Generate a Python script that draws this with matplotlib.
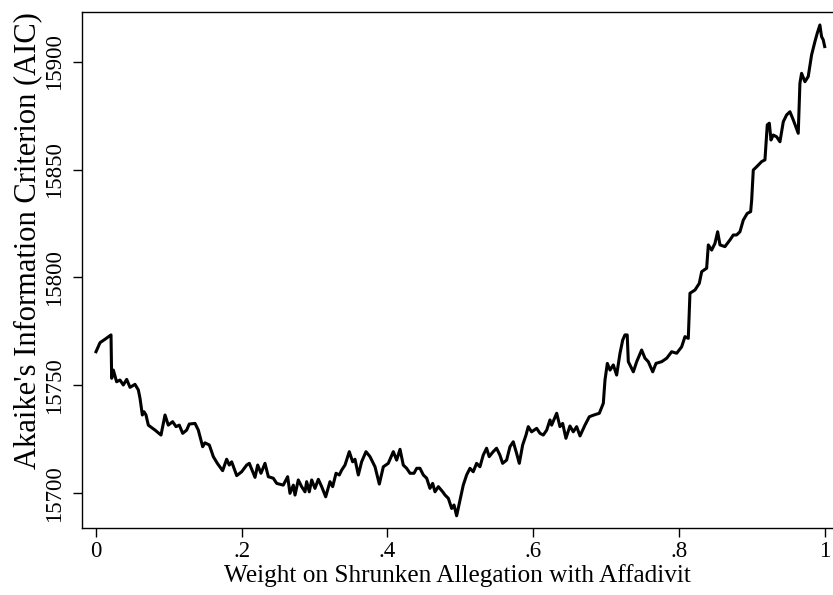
import matplotlib
matplotlib.use("Agg")
import matplotlib.pyplot as plt

plt.rcParams['font.family'] = ['Liberation Serif', 'DejaVu Serif']

# weight on shrunken allegation vs. AIC of the fitted model
weight = [
    0.0, 0.0055, 0.0124, 0.0206, 0.0215, 0.0238, 0.0283, 0.0329, 0.0375, 0.0421,
    0.0467, 0.0535, 0.0581, 0.0604, 0.0636, 0.0659, 0.0686, 0.0718, 0.0810, 0.0892,
    0.0947, 0.0992, 0.1052, 0.1098, 0.1143, 0.1190, 0.1244, 0.1280, 0.1359, 0.1404,
    0.1464, 0.1495, 0.1555, 0.1610, 0.1665, 0.1738, 0.1793, 0.1829, 0.1862, 0.1931,
    0.1999, 0.2068, 0.2104, 0.2182, 0.2219, 0.2264, 0.2319, 0.2365, 0.2433, 0.2480,
    0.2570, 0.2630, 0.2662, 0.2708, 0.2731, 0.2776, 0.2822, 0.2868, 0.2891, 0.2927,
    0.2960, 0.3005, 0.3051, 0.3097, 0.3152, 0.3211, 0.3248, 0.3294, 0.3339, 0.3372,
    0.3417, 0.3476, 0.3522, 0.3554, 0.3600, 0.3645, 0.3705, 0.3760, 0.3829, 0.3888,
    0.3943, 0.4011, 0.4080, 0.4126, 0.4172, 0.4217, 0.4263, 0.4309, 0.4364, 0.4401,
    0.4446, 0.4492, 0.4538, 0.4583, 0.4620, 0.4652, 0.4698, 0.4758, 0.4790, 0.4835,
    0.4881, 0.4913, 0.4949, 0.4995, 0.5040, 0.5086, 0.5132, 0.5177, 0.5223, 0.5269,
    0.5314, 0.5360, 0.5396, 0.5451, 0.5497, 0.5543, 0.5580, 0.5635, 0.5681, 0.5726,
    0.5772, 0.5809, 0.5855, 0.5901, 0.5932, 0.5978, 0.6047, 0.6093, 0.6138, 0.6185,
    0.6230, 0.6253, 0.6322, 0.6367, 0.6404, 0.6449, 0.6504, 0.6550, 0.6596, 0.6642,
    0.6710, 0.6770, 0.6834, 0.6907, 0.6962, 0.6985, 0.7017, 0.7054, 0.7099, 0.7145,
    0.7191, 0.7228, 0.7259, 0.7290, 0.7305, 0.7374, 0.7420, 0.7488, 0.7534, 0.7579,
    0.7640, 0.7685, 0.7763, 0.7832, 0.7900, 0.7969, 0.8037, 0.8083, 0.8128, 0.8151,
    0.8220, 0.8279, 0.8312, 0.8380, 0.8403, 0.8449, 0.8494, 0.8531, 0.8563, 0.8631,
    0.8700, 0.8746, 0.8791, 0.8837, 0.8883, 0.8937, 0.8984, 0.8998, 0.9020, 0.9066,
    0.9135, 0.9180, 0.9212, 0.9240, 0.9263, 0.9294, 0.9340, 0.9386, 0.9432, 0.9477,
    0.9523, 0.9569, 0.9637, 0.9660, 0.9683, 0.9729, 0.9774, 0.9820, 0.9866, 0.9898,
    0.9934, 0.9957, 0.9980, 1.0000,
]
aic = [
    15765.6, 15769.8, 15771.4, 15773.4, 15753.3, 15757.1, 15751.7, 15752.5, 15750.2, 15752.8,
    15749.1, 15750.5, 15747.9, 15744.0, 15736.3, 15737.8, 15736.3, 15731.6, 15729.3, 15727.0,
    15736.3, 15731.6, 15733.2, 15730.9, 15731.6, 15727.8, 15729.3, 15732.1, 15732.4, 15729.3,
    15721.6, 15723.4, 15722.4, 15717.0, 15713.9, 15710.5, 15715.8, 15713.1, 15714.6, 15708.2,
    15710.0, 15713.1, 15713.9, 15707.4, 15713.1, 15709.3, 15713.9, 15707.7, 15707.0, 15704.6,
    15703.8, 15707.7, 15700.0, 15703.8, 15699.2, 15706.2, 15703.1, 15700.7, 15705.4, 15700.7,
    15706.2, 15702.3, 15706.5, 15703.1, 15698.4, 15705.4, 15703.1, 15709.3, 15708.5, 15710.8,
    15713.1, 15719.3, 15714.6, 15715.8, 15708.5, 15714.6, 15719.3, 15717.0, 15712.3, 15704.3,
    15712.3, 15713.9, 15719.3, 15715.4, 15720.4, 15713.1, 15711.6, 15709.3, 15709.3, 15711.6,
    15711.6, 15708.5, 15707.0, 15702.3, 15704.6, 15700.7, 15703.1, 15700.7, 15699.2, 15697.7,
    15693.0, 15694.6, 15689.6, 15696.9, 15703.8, 15708.5, 15711.6, 15710.0, 15713.9, 15712.3,
    15717.7, 15720.9, 15717.0, 15719.3, 15720.9, 15717.7, 15713.9, 15715.4, 15721.6, 15723.9,
    15718.5, 15713.9, 15722.4, 15727.0, 15730.9, 15728.5, 15730.1, 15727.8, 15727.0, 15729.3,
    15734.0, 15731.6, 15737.1, 15730.9, 15732.4, 15725.5, 15731.2, 15728.5, 15730.9, 15726.6,
    15731.6, 15735.5, 15736.3, 15737.1, 15741.7, 15752.5, 15760.2, 15757.1, 15759.5, 15754.8,
    15764.9, 15771.0, 15773.4, 15773.4, 15761.0, 15756.3, 15761.0, 15766.4, 15762.6, 15761.0,
    15756.3, 15760.2, 15761.0, 15762.6, 15765.6, 15764.9, 15767.9, 15772.6, 15771.8, 15792.7,
    15794.2, 15797.3, 15802.7, 15804.3, 15815.1, 15812.7, 15815.8, 15821.2, 15815.1, 15814.3,
    15817.4, 15819.7, 15819.7, 15821.2, 15826.6, 15829.7, 15830.5, 15835.9, 15849.8, 15851.3,
    15853.7, 15854.5, 15870.7, 15871.5, 15863.7, 15866.0, 15865.2, 15862.9, 15872.2, 15875.3,
    15876.8, 15873.0, 15866.8, 15890.0, 15894.6, 15890.7, 15893.1, 15903.1, 15909.3, 15913.2,
    15917.0, 15911.6, 15910.1, 15907.0,
]

xticks = [0, 0.2, 0.4, 0.6, 0.8, 1.0]
xticklabels = ['0', '.2', '.4', '.6', '.8', '1']
yticks = [15700, 15750, 15800, 15850, 15900]

fig = plt.figure(figsize=(8.33, 5.95), dpi=100)
ax = fig.add_axes([0.0988, 0.1121, 0.9012, 0.8677])

ax.plot(weight, aic, color='black', lw=2.2, solid_joinstyle='round')

ax.set_xlim(-0.0188, 1.0114)
ax.set_ylim(15683.8, 15923.0)

ax.set_xticks(xticks)
ax.set_xticklabels(xticklabels)
ax.set_yticks(yticks)
ax.set_yticklabels([str(v) for v in yticks], rotation=90, va='center')

ax.tick_params(axis='both', direction='out', length=6.5, width=1.0,
               labelsize=16.5, color='black')
ax.tick_params(axis='x', pad=3)
ax.tick_params(axis='y', pad=6)

ax.spines['right'].set_visible(False)
for s in ['left', 'bottom', 'top']:
    ax.spines[s].set_linewidth(1.0)

ax.set_xlabel('Weight on Shrunken Allegation with Affadivit', fontsize=18.2, labelpad=1)
ax.set_ylabel("Akaike's Information Criterion (AIC)", fontsize=22)
ax.yaxis.set_label_coords(-0.054, 0.558)

fig.savefig('out.png', dpi=100)
